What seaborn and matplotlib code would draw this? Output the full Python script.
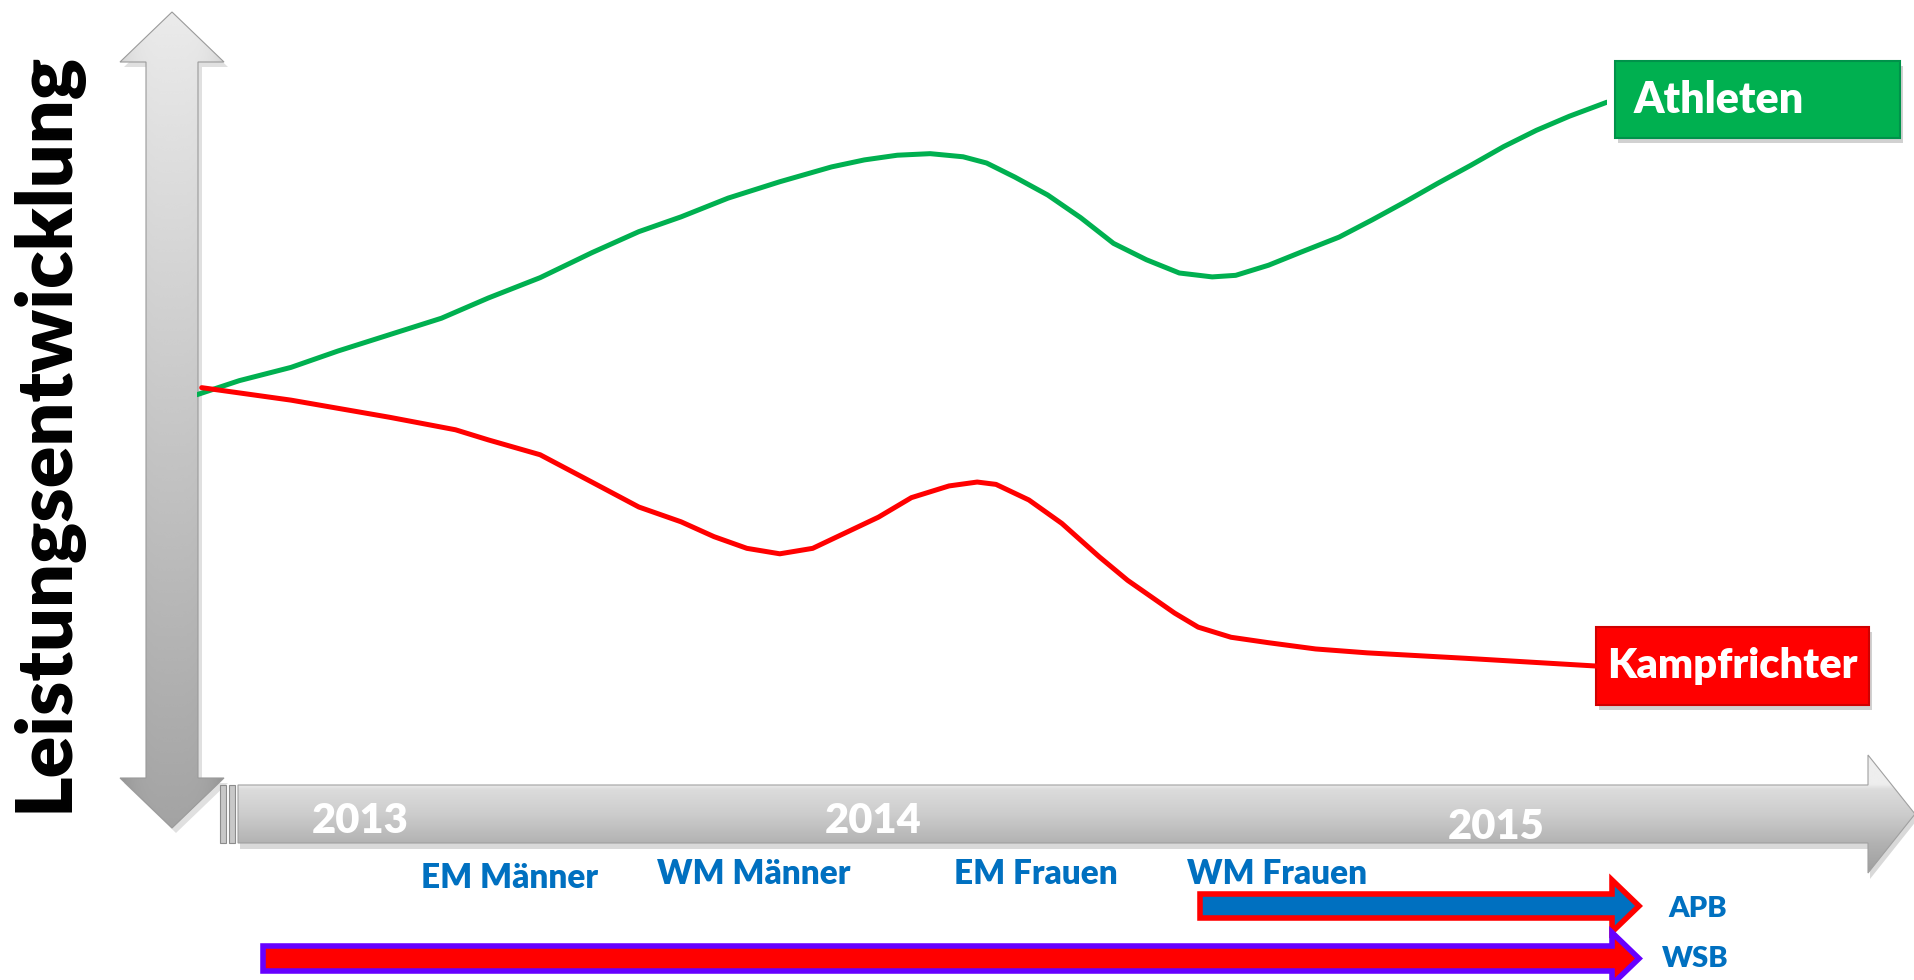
import numpy as np
import pandas as pd
import matplotlib
matplotlib.use('Agg')
import matplotlib.pyplot as plt
import seaborn as sns
from matplotlib.patches import Polygon, Rectangle

# Leistungsverlauf (x: Monate ab Anfang 2013, y: Leistung in %)
months_athleten = [0.0, 0.9, 2.0, 3.0, 4.1, 5.2, 6.2, 7.3, 8.4, 9.4, 10.3, 11.3, 12.4,
                   13.5, 14.2, 14.9, 15.6, 16.3, 16.8, 17.4, 18.1, 18.8, 19.5, 20.2,
                   20.9, 21.6, 22.1, 22.8, 23.5, 24.3, 25.0, 25.7, 26.4, 27.1, 27.8,
                   28.5, 29.2, 30.0]
leistung_athleten = [49.4, 51.2, 52.9, 55.0, 57.1, 59.2, 61.8, 64.4, 67.6, 70.3, 72.2, 74.6, 76.7,
                     78.6, 79.5, 80.1, 80.3, 79.9, 79.1, 77.3, 75.0, 72.1, 68.8, 66.7,
                     65.0, 64.5, 64.7, 66.0, 67.7, 69.6, 71.8, 74.1, 76.5, 78.8, 81.2,
                     83.3, 85.1, 86.9]

months_kampf = [0.1, 2.0, 4.1, 5.5, 6.2, 7.3, 8.4, 9.4, 10.3, 11.0, 11.7, 12.4, 13.1,
                13.8, 14.5, 15.2, 16.0, 16.6, 17.0, 17.7, 18.4, 19.2, 19.8, 20.3,
                20.8, 21.3, 22.0, 22.8, 23.8, 24.9, 27.0, 29.8]
leistung_kampf = [50.3, 48.7, 46.5, 44.9, 43.6, 41.7, 38.2, 35.0, 33.1, 31.2, 29.7, 29.0, 29.7,
                  31.7, 33.7, 36.2, 37.7, 38.2, 37.9, 35.9, 32.9, 28.6, 25.6, 23.5,
                  21.4, 19.6, 18.3, 17.6, 16.8, 16.3, 15.6, 14.6]

groups = ['Athleten', 'Kampfrichter']
years = ['2013', '2014', '2015']
events = ['EM Männer', 'WM Männer', 'EM Frauen', 'WM Frauen']
programs = ['APB', 'WSB']
y_label = 'Leistungsentwicklung'

df = pd.concat([
    pd.DataFrame({'Monat': months_athleten, 'Leistung': leistung_athleten, 'Gruppe': groups[0]}),
    pd.DataFrame({'Monat': months_kampf, 'Leistung': leistung_kampf, 'Gruppe': groups[1]}),
], ignore_index=True)

sns.set_theme(style='white')
plt.rcParams['font.family'] = ['Lato', 'DejaVu Sans']

GREEN = '#00B050'
RED = '#FF0000'
BLUE = '#0070C0'
PURPLE = '#6600FF'
WEIGHT = 'heavy'

W, H = 1915, 980
fig = plt.figure(figsize=(W / 100, H / 100), dpi=100)
fig.patch.set_facecolor('white')

# decoration layer in pixel units
deco = fig.add_axes([0, 0, 1, 1])
deco.set_xlim(0, W)
deco.set_ylim(H, 0)
deco.axis('off')


def gradient_shape(verts, x0, x1, y0, y1, img, zorder, edge=None):
    poly = Polygon(verts, closed=True, facecolor='none',
                   edgecolor=edge if edge else 'none', lw=0.8, zorder=zorder + 0.1)
    deco.add_patch(poly)
    im = deco.imshow(img, extent=(x0, x1, y1, y0), cmap='gray', vmin=0, vmax=1,
                     aspect='auto', interpolation='bicubic', zorder=zorder)
    im.set_clip_path(poly)


# vertical double arrow
cx = 172
v_verts = [(cx, 12), (cx + 52, 62), (cx + 26, 62), (cx + 26, 778), (cx + 52, 778),
           (cx, 828), (cx - 52, 778), (cx - 26, 778), (cx - 26, 62), (cx - 52, 62)]
tv = np.linspace(0, 1, 300)[:, None]
uh = np.linspace(-1, 1, 120)[None, :]
v_img = 0.92 - 0.28 * tv - 0.08 * uh ** 4
deco.add_patch(Polygon([(x + 4, y + 5) for x, y in v_verts], closed=True,
                       facecolor='#000000', alpha=0.12, edgecolor='none', zorder=1))
gradient_shape(v_verts, cx - 52, cx + 52, 12, 828, v_img, 2, edge='#9a9a9a')

# horizontal time arrow
h_verts = [(238, 785), (1868, 785), (1868, 755), (1915, 814), (1868, 873), (1868, 843), (238, 843)]
yy = np.linspace(755, 873, 240)[:, None]
h_col = np.interp(yy, [755, 785, 790, 815, 843, 873], [0.93, 0.93, 0.86, 0.80, 0.70, 0.62])
h_img = h_col + 0 * np.linspace(0, 1, 10)[None, :]
deco.add_patch(Polygon([(x + 2, y + 6) for x, y in h_verts], closed=True,
                       facecolor='#000000', alpha=0.15, edgecolor='none', zorder=1))
gradient_shape(h_verts, 238, 1915, 755, 873, h_img, 2, edge='#a0a0a0')
for bx in (220, 229):
    deco.add_patch(Rectangle((bx, 785), 6, 58, facecolor='#c8c8c8',
                             edgecolor='#8c8c8c', lw=0.8, zorder=2))

# year labels on the arrow
year_x = [360, 873, 1496]
year_y = [821, 821, 827]
for lab, x, y in zip(years, year_x, year_y):
    deco.text(x, y, lab, color='white', fontsize=30, fontweight=WEIGHT,
              ha='center', va='center', zorder=5)

# event labels
event_x = [510, 754, 1036, 1277]
event_y = [878, 874, 874, 874]
for lab, x, y in zip(events, event_x, event_y):
    deco.text(x, y, lab, color=BLUE, fontsize=24, fontweight=WEIGHT,
              ha='center', va='center', zorder=5)

# program arrows (APB / WSB)
prog_span = [(1200, 1612), (263, 1612)]
prog_y = [(894, 918), (946, 971)]
prog_face = [BLUE, RED]
prog_edge = [RED, PURPLE]
for (xa, xb), (ya, yb), fc, ec in zip(prog_span, prog_y, prog_face, prog_edge):
    ym = (ya + yb) / 2
    verts = [(xa, ya), (xb, ya), (xb, ym - 26), (xb + 27, ym), (xb, ym + 26), (xb, yb), (xa, yb)]
    deco.add_patch(Polygon(verts, closed=True, facecolor=fc, edgecolor=ec,
                           lw=4, joinstyle='miter', zorder=3))

prog_x = [1698, 1695]
prog_ty = [909, 959]
for lab, x, y in zip(programs, prog_x, prog_ty):
    deco.text(x, y, lab, color=BLUE, fontsize=21, fontweight=WEIGHT,
              ha='center', va='center', zorder=5)

# group boxes
box_xy = [(1615, 61, 285, 77), (1596, 627, 273, 78)]
box_col = [GREEN, RED]
box_edge = ['#00924a', '#d00000']
for (bx, by, bw, bh), fc, ec in zip(box_xy, box_col, box_edge):
    deco.add_patch(Rectangle((bx + 3, by + 5), bw, bh, facecolor='black',
                             alpha=0.18, edgecolor='none', zorder=3))
    deco.add_patch(Rectangle((bx, by), bw, bh, facecolor=fc, edgecolor=ec,
                             lw=1.5, zorder=4))
deco.text(1634, 100, groups[0], color='white', fontsize=31, fontweight=WEIGHT,
          ha='left', va='center', zorder=5)
deco.text(1732, 666, groups[1], color='white', fontsize=30, fontweight=WEIGHT,
          ha='center', va='center', zorder=5)

# rotated y label, fitted to the arrow length
ylab = deco.text(46, 432, y_label, color='black', fontsize=56, fontweight=WEIGHT,
                 rotation=90, ha='center', va='center', zorder=5)
fig.canvas.draw()
ext = ylab.get_window_extent(fig.canvas.get_renderer())
ylab.set_fontsize(56 * 761 / ext.height)

# line chart
ax = fig.add_axes([197 / W, (H - 780) / H, 1410 / W, 780 / H])
ax.patch.set_alpha(0)
sns.lineplot(data=df, x='Monat', y='Leistung', hue='Gruppe',
             palette={groups[0]: GREEN, groups[1]: RED}, sort=False,
             estimator=None, linewidth=3.6, legend=False, ax=ax)
for line in ax.lines:
    line.set_solid_joinstyle('round')
    line.set_solid_capstyle('round')
ax.set_xlim(0, 30)
ax.set_ylim(0, 100)
ax.axis('off')
ax.set_zorder(10)

fig.savefig('out.png', dpi=100, facecolor='white')
